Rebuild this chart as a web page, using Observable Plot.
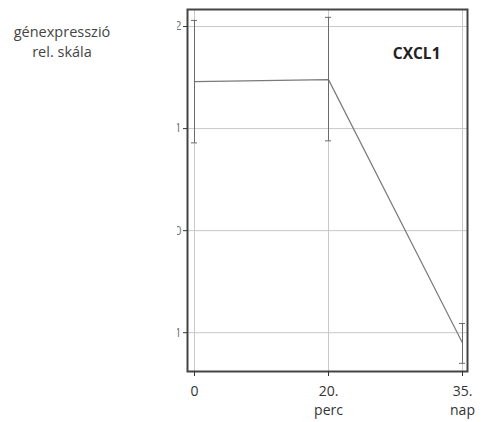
<!DOCTYPE html>
<html>
<head>
<meta charset="utf-8">
<script src="https://cdn.jsdelivr.net/npm/d3@7"></script>
<script src="https://cdn.jsdelivr.net/npm/@observablehq/plot@0.6"></script>
<style>
  body { margin: 0; background: #fff; }
  #wrap { position: relative; width: 493px; height: 422px; font-family: "Open Sans", sans-serif; }
  #ylab { position: absolute; left: 0; top: 22px; width: 124px; text-align: center;
          font-size: 14.5px; line-height: 20px; color: #444; z-index: 1; }
  svg { display: block; }
</style>
</head>
<body>
<div id="wrap">
  <div id="ylab">génexpresszió<br>rel. skála</div>
</div>
<script>
// Time points (categorical, evenly spaced)
const days = ["0", "20.\nperc", "35.\nnap"];
// Relative gene expression of CXCL1, with error bar bounds
const means = [1.46, 1.48, -1.10];
const upper = [2.06, 2.09, -0.91];
const lower = [0.86, 0.88, -1.30];
const yTicks = [-1, 0, 1, 2];
const geneName = "CXCL1";

const data = days.map((d, i) => ({day: d, mean: means[i], hi: upper[i], lo: lower[i]}));

const chart = Plot.plot({
  width: 493,
  height: 422,
  marginLeft: 187,
  marginRight: 26,
  marginTop: 9,
  marginBottom: 51,
  style: {fontFamily: "Open Sans, sans-serif", background: "#fff"},
  x: {type: "point", domain: days, padding: 0, insetLeft: 6, insetRight: 5},
  y: {domain: [-1.38, 2.167]},
  marks: [
    Plot.gridY(yTicks, {stroke: "#c8c8c8", strokeOpacity: 1}),
    Plot.gridX(days, {stroke: "#c8c8c8", strokeOpacity: 1}),
    Plot.line(data, {x: "day", y: "mean", stroke: "#7a7a7a", strokeWidth: 1.2}),
    Plot.ruleX(data, {x: "day", y1: "lo", y2: "hi", stroke: "#6a6a6a", strokeWidth: 1}),
    // error bar caps
    Plot.ruleY(data, {x1: "day", x2: "day", y: "hi", stroke: "#6a6a6a", insetLeft: -3, insetRight: -3}),
    Plot.ruleY(data, {x1: "day", x2: "day", y: "lo", stroke: "#6a6a6a", insetLeft: -3, insetRight: -3}),
    Plot.frame({stroke: "#444", strokeWidth: 2}),
    Plot.text([geneName], {frameAnchor: "top-right", dx: -27, dy: 38, fontSize: 15.5, fontWeight: "bold", fill: "#222"}),
    Plot.axisX(days, {tickSize: 5, tickPadding: 6, fontSize: 14, fill: "#333", stroke: "#333", lineHeight: 1.35, label: null}),
    Plot.axisY(yTicks, {tickSize: 4, tickPadding: 2, fontSize: 12, fill: "#777", stroke: "#333", label: null, tickFormat: d3.format("d")})
  ]
});

// The value labels on the left axis only show their right-hand edge.
// The label group is shifted by its own transform, so the clip rect is
// given in that group's coordinates.
const svg = d3.select(chart);
const labelGroup = svg.select('g[aria-label="y-axis tick label"]');
const m = /translate\(([-\d.]+)/.exec(labelGroup.attr("transform") || "");
const shift = m ? +m[1] : 0;
svg.append("defs").append("clipPath").attr("id", "yclip")
  .append("rect").attr("x", 177 - shift).attr("y", 0).attr("width", 20).attr("height", 422);
labelGroup.attr("clip-path", "url(#yclip)");

document.getElementById("wrap").appendChild(chart);
</script>
</body>
</html>
